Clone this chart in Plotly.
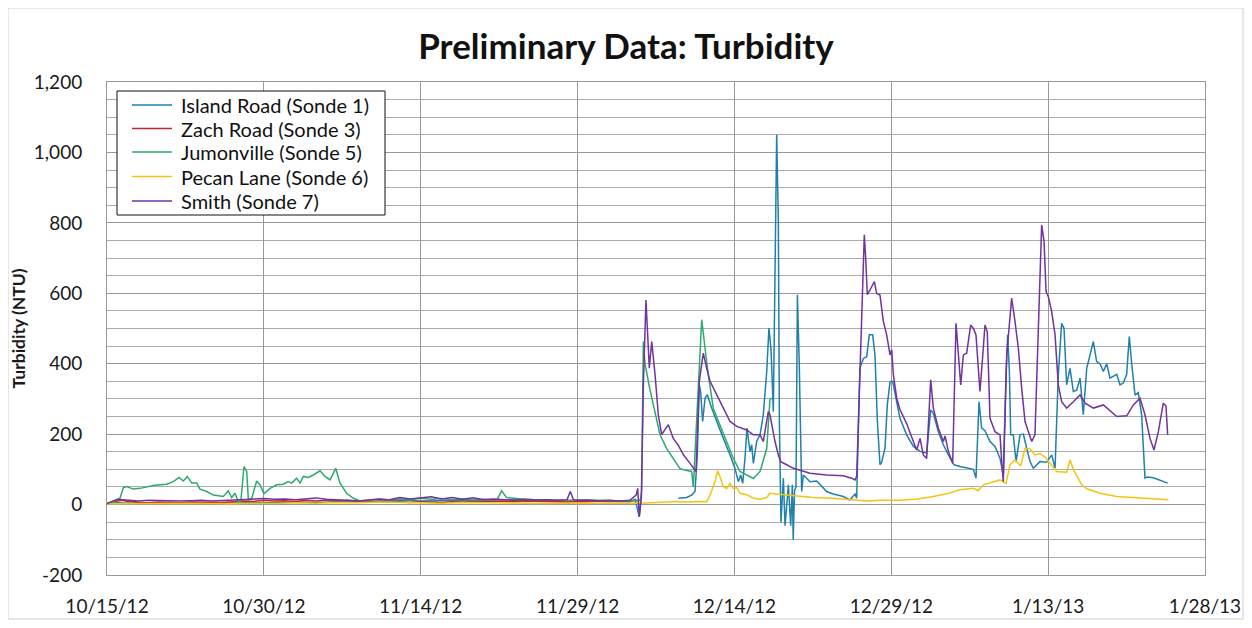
import pandas as pd
import plotly.graph_objects as go

START = "2012-10-15"

# ---- data (days since 10/15/12, turbidity NTU) ----
island_days = [0, 1, 2, 3, 4, 5, 6, 7, 8, 10, 12, 14, 16, 18, 20, 22, 24, 26, 28, 30, 32, 34, 36, 38, 40, 42, 44, 46, 48, 50,
               50.5, 50.7, 50.9, 51.05, 51.1,
               54.64, 55.43, 55.91, 56.23, 56.45, 56.64, 56.77, 56.96, 57.19, 57.41, 57.82, 58.3, 58.94, 59.58, 60.05,
               60.37, 60.6, 60.79, 61.01, 61.2, 61.49, 61.65, 61.81, 62.13, 62.45, 62.76, 63.09, 63.3, 63.5, 63.72,
               63.88, 64.04, 64.2, 64.3, 64.45, 64.68, 64.84, 65.16, 65.38, 65.54, 65.62, 65.75, 65.89, 66.02, 66.2,
               66.34, 66.43, 66.59, 66.91, 67.23, 67.87, 68.18, 68.82, 69.46, 70.41, 71.05, 71.53, 71.69, 72.0, 72.33,
               72.65, 72.9, 73.22, 73.44, 73.67, 73.92, 74.08, 74.4, 74.62, 74.88, 75.13, 75.52, 75.83, 76.47, 77.11,
               77.75, 78.38, 78.77, 79.02, 79.5, 79.98, 80.46, 81.0, 81.57, 82.21, 82.85, 83.1, 83.39, 83.64, 83.96,
               84.44, 84.92, 85.4, 85.71, 85.97, 86.13, 86.29, 86.42, 86.67, 86.93, 87.31, 87.63, 87.95, 88.27, 88.58,
               89.22, 89.86, 90.34, 90.66, 90.97, 91.29, 91.52, 91.77, 92.09, 92.41, 92.73, 93.05, 93.36, 93.69, 94.0,
               94.32, 94.64, 94.96, 95.28, 95.6, 95.91, 96.23, 96.56, 96.87, 97.19, 97.51, 97.76, 97.99, 98.31, 98.62,
               98.94, 99.26, 99.49, 100.06, 100.7, 101.43]
island_vals = [3, 5, 4, 6, 5, 4, 6, 5, 4, 5, 4, 6, 5, 7, 6, 8, 7, 10, 12, 10, 11, 13, 12, 14, 12, 11, 12, 10, 9, 8,
               15, -10, -35, 10, None,
               18, 20, 27, 37, 141, 340, 320, 236, 302, 312, 274, 236, 188, 141, 103,
               65, 84, 60, 131, 217, 150, 170, 117, 180, 198, 255, 378, 501, 440, 264,
               614, 1050, 804, 236, -50, 75, -60, 56, -60, 56, -100, 40, 50, 596, 400,
               142, 37, 84, 75, 65, 67, 57, 37, 30, 23, 13, 30, 18, 387, 415,
               420, 482, 482, 425, 236, 113, 120, 160, 283, 349, 350, 292, 245, 198, 165,
               151, 146, 269, 259, 207, 170, 141, 113, 108, 103, 100, 75, 292, 217, 210,
               179, 165, 131, 84, 368, 482, 380, 198, 198, 122, 198, 200, 160, 122, 103,
               122, 120, 141, 103, 368, 515, 500, 340, 387, 321, 325, 359, 255, 387, 425,
               463, 406, 400, 378, 400, 359, 365, 370, 340, 345, 370, 477, 400, 311, 318,
               255, 75, 78, 76, 70, 61]

zach_days = [0, 0.5, 1, 1.5, 2, 2.5, 3, 4, 5, 6, 7, 8, 9, 10, 11, 12, 13, 14, 15, 16, 17, 18, 19, 20, 21, 22, 23, 24, 25,
             26, 27, 28, 29, 30, 31, 32, 33, 34, 35, 36, 37, 38, 39, 40, 41, 42, 43, 44, 45, 46, 47, 48, 49, 50, 51]
zach_vals = [2, 8, 10, 12, 8, 10, 6, 5, 7, 6, 5, 7, 6, 5, 6, 8, 10, 9, 12, 10, 11, 9, 12, 10, 13, 11, 12, 10, 8,
             9, 7, 8, 6, 8, 7, 6, 8, 7, 9, 8, 10, 9, 8, 10, 9, 8, 9, 7, 9, 8, 10, 9, 11, 10, 12]

jumon_days = [0, 0.6, 1.24, 1.56, 1.88, 2.52, 3.16, 3.79, 4.43, 5.07, 5.71, 6.34, 6.89, 7.3, 7.68, 8.1, 8.58, 8.89,
              9.53, 10.17, 11.12, 11.6, 11.92, 12.24, 12.56, 12.8, 13.1, 13.36, 13.52, 13.84, 14.32, 14.63, 15.01,
              15.59, 16.23, 16.86, 17.34, 17.66, 18.14, 18.46, 18.77, 19.25, 19.73, 20.37, 20.85, 21.33, 21.87, 22.28,
              22.92, 23.56, 24.2, 25, 26, 27, 28, 29, 30, 31, 32, 33, 34, 35, 36, 37.3, 37.74, 38.2, 39, 40, 41, 42,
              43, 44, 45, 46, 47, 48, 49, 50, 51.0, 51.13, 51.29, 51.45, 51.86, 52.25, 52.88, 53.52, 54.16, 54.8,
              55.43, 55.91, 56.07, 56.55, 56.87, 57.19, 57.5, 57.98, 58.62, 59.26, 59.9, 60.53, 61.17, 61.81, 62.45,
              63.09, 63.4, 63.6]
jumon_vals = [3, 8, 18, 48, 51, 44, 46, 51, 54, 56, 58, 65, 77, 67, 80, 61, 61, 44,
              37, 27, 23, 39, 20, 32, 8, 10, 108, 94, 13, 18, 67, 56, 31,
              46, 56, 58, 65, 61, 75, 61, 80, 77, 84, 96, 80, 70, 103, 61,
              32, 18, 10, 12, 15, 13, 16, 14, 18, 15, 17, 14, 16, 13, 15, 14, 39, 20, 17, 15, 14, 13,
              14, 12, 13, 12, 11, 12, 11, 10, 12, 40, 463, 400, 335, 284, 199, 159, 131, 102,
              97, 94, 51, 350, 525, 444, 369, 273, 227, 179, 131, 94, 85, 74, 94,
              159, 300, 302]

pecan_days = [0, 2, 4, 6, 8, 10, 12, 14, 16, 18, 20, 22, 24, 26, 28, 30, 32, 34, 36, 38, 40, 42, 44, 46, 48, 50.97,
              52, 53.84, 54.6, 55.5, 56.5, 57.35, 57.67, 58.14, 58.4, 58.62, 58.94, 59.26, 59.58, 59.9, 60.22, 60.53,
              61.17, 61.81, 62.45, 63.09, 63.4, 64.04, 65, 66.27, 67.5, 69.46, 71, 72.65, 74, 75.83, 77.5, 79.02,
              80.5, 81.57, 82.85, 83.32, 83.8, 84.5, 85.4, 85.97, 86.35, 86.83, 87.37, 87.79, 88.27, 88.74, 89.22,
              89.7, 90.18, 90.82, 91.77, 92.09, 92.41, 93.21, 93.69, 94.96, 96.56, 98.15, 101.34, 101.5]
pecan_vals = [2, 3, 2, 3, 4, 3, 2, 4, 3, 5, 4, 6, 5, 7, 6, 5, 4, 6, 5, 4, 5, 3, 4, 3, 4, 4,
              5, 7, 9, 7, 9, 8, 27, 65, 96, 80, 51, 45, 60, 45, 48, 32,
              28, 18, 15, 20, 32, 30, 27, 23, 20, 18, 14, 10, 12, 12, 16, 23,
              32, 42, 46, 40, 56, 62, 70, 60, 113, 127, 110, 160, 158, 141, 145,
              135, 117, 94, 92, 127, 100, 56, 45, 32, 23, 20, 15, 14]

smith_days = [0, 0.5, 1, 1.5, 2, 3, 4, 5, 6, 7, 8, 9, 10, 11, 12, 13, 14, 15, 16, 17, 18, 19, 20, 21, 22, 23, 24, 25,
              26, 27, 28, 29, 30, 31, 32, 33, 34, 35, 36, 37, 38, 39, 40, 41, 42, 43, 44, 44.3, 44.6, 45, 46, 47, 48,
              49, 50, 50.6, 50.75, 50.9, 51.1, 51.3, 51.54, 51.86, 52.09, 52.41, 52.72, 53.04, 53.68, 54.16, 54.6,
              55.11, 55.75, 56.33, 56.64, 57.02, 57.35, 57.67, 58.3, 58.94, 59.58, 60.22, 61.17, 61.81, 62.45, 62.76,
              63.24, 63.4, 63.88, 64.2, 64.42, 65.0, 65.63, 66.2, 67.23, 68.82, 70.41, 71.21, 71.53, 71.69, 72.0,
              72.2, 72.42, 72.55, 72.71, 72.97, 73.38, 73.6, 73.92, 74.24, 74.56, 74.88, 75.04, 75.2, 75.52, 75.83,
              76.47, 77.11, 77.43, 77.75, 78.06, 78.38, 78.77, 79.02, 79.5, 79.98, 80.14, 80.46, 80.87, 81.19, 81.41,
              81.64, 81.89, 82.21, 82.59, 82.85, 83.1, 83.48, 83.74, 83.96, 84.18, 84.44, 84.92, 85.4, 85.56, 85.71,
              86.04, 86.51, 86.83, 87.15, 87.47, 87.79, 88.11, 88.43, 88.74, 88.9, 89.16, 89.38, 89.61, 89.8, 90.02,
              90.34, 90.66, 90.97, 91.29, 91.77, 92.41, 93.05, 93.53, 94.32, 95.28, 96.56, 97.51, 98.15, 98.78, 99.26,
              99.74, 100.12, 100.54, 101.01, 101.27, 101.43]
smith_vals = [3, 10, 15, 14, 12, 10, 12, 11, 12, 10, 11, 12, 10, 11, 14, 15, 16, 17, 15, 16, 14, 16, 19, 15, 14, 12, 10, 13,
              16, 14, 20, 16, 18, 22, 16, 20, 15, 19, 14, 16, 14, 12, 15, 13, 14, 12, 14, 37, 14, 12, 13, 11, 12,
              10, 12, 27, 46, -34, 20, 350, 581, 387, 463, 369, 255, 199, 227, 187, 170,
              142, 117, 94, 350, 430, 387, 350, 312, 273, 236, 222, 212, 198, 198, 179,
              264, 255, 179, 141, 122, 113, 103, 98, 89, 84, 82, 75, 70, 80, 350,
              557, 766, 700, 596, 610, 633, 600, 595, 520, 482, 425, 440, 368, 302, 270,
              230, 179, 155, 188, 141, 131, 354, 274, 217, 179, 195, 151, 117, 515, 435,
              340, 425, 430, 510, 500, 482, 321, 420, 510, 490, 245, 207, 198, 122, 65,
              425, 586, 520, 444, 330, 236, 207, 179, 198, 340, 577, 794, 747, 605, 590,
              548, 482, 340, 292, 274, 292, 311, 288, 274, 283, 250, 252, 283, 302, 255,
              188, 155, 207, 288, 280, 198]

series_names = ["Island Road (Sonde 1)", "Zach Road (Sonde 3)", "Jumonville (Sonde 5)",
                "Pecan Lane (Sonde 6)", "Smith (Sonde 7)"]
series_days = [island_days, zach_days, jumon_days, pecan_days, smith_days]
series_vals = [island_vals, zach_vals, jumon_vals, pecan_vals, smith_vals]
series_colors = ["#1F80AC", "#C8262E", "#2DAA6C", "#F2C515", "#7232A0"]

y_tickvals = [-200, 0, 200, 400, 600, 800, 1000, 1200]
y_ticktext = ["-200", "0", "200", "400", "600", "800", "1,000", "1,200"]

start = pd.Timestamp(START)
fig = go.Figure()
for name, days, vals, color in zip(series_names, series_days, series_vals, series_colors):
    x = [start + pd.Timedelta(days=d) for d in days]
    fig.add_trace(go.Scatter(x=x, y=vals, name=name, mode="lines", showlegend=False,
                             line=dict(color=color, width=1.5), connectgaps=False))

FONT = "Lato, 'Open Sans', sans-serif"
W, H = 1236, 612
L, R, T, B = 99, 39, 74, 45
PW, PH = W - L - R, H - T - B


def px(fx):
    return (fx - L) / PW


def py(fy):
    return (H - B - fy) / PH


fig.update_layout(
    width=W, height=H,
    margin=dict(l=L, r=R, t=T, b=B),
    paper_bgcolor="white", plot_bgcolor="white",
    font=dict(family=FONT, size=19, color="#1a1a1a"),
    title=dict(text="<b>Preliminary Data: Turbidity</b>", x=0.5, xanchor="center",
               y=1 - 39 / H, yanchor="middle", font=dict(size=35, color="#111", family=FONT)),
    showlegend=False,
    xaxis=dict(type="date", automargin=False,
               range=[start, start + pd.Timedelta(days=105)],
               tick0=start, dtick=15 * 86400000, tickformat="%-m/%-d/%y",
               showgrid=True, gridcolor="#999999", gridwidth=1,
               showline=True, linecolor="#999999", mirror=True,
               zeroline=False, ticks="", ticklabelstandoff=14,
               tickfont=dict(size=19)),
    yaxis=dict(range=[-200, 1200], tickvals=y_tickvals, ticktext=y_ticktext, automargin=False,
               showgrid=True, gridcolor="#999999", gridwidth=1,
               minor=dict(dtick=50, showgrid=True, gridcolor="#ababab", gridwidth=1),
               showline=True, linecolor="#999999", mirror=True,
               zeroline=False, ticks="", ticklabelstandoff=20,
               tickfont=dict(size=19),
               title=dict(text="<b>Turbidity (NTU)</b>", font=dict(size=17.5), standoff=6)),
)

# chart-area border
fig.add_shape(type="rect", xref="paper", yref="paper",
              x0=px(0), x1=px(W - 1), y0=py(H - 1), y1=py(0),
              line=dict(color="#d0d0d0", width=1), fillcolor="rgba(0,0,0,0)", layer="below")

# legend box (drawn to match the original's compact spacing)
LEG_X0, LEG_X1, LEG_Y0, LEG_Y1 = 109, 377, 83, 207
fig.add_shape(type="rect", xref="paper", yref="paper",
              x0=px(LEG_X0), x1=px(LEG_X1), y0=py(LEG_Y1), y1=py(LEG_Y0),
              line=dict(color="#111", width=1), fillcolor="white", layer="above")
entry_y = [97, 120.5, 144, 168.5, 193]
for name, color, ey in zip(series_names, series_colors, entry_y):
    fig.add_shape(type="line", xref="paper", yref="paper",
                  x0=px(124), x1=px(164), y0=py(ey), y1=py(ey),
                  line=dict(color=color, width=1.5), layer="above")
    fig.add_annotation(text=name, xref="paper", yref="paper", x=px(171), y=py(ey),
                       xanchor="left", yanchor="middle", showarrow=False,
                       font=dict(size=20, family=FONT, color="#111"))

fig.write_html("out.html")
